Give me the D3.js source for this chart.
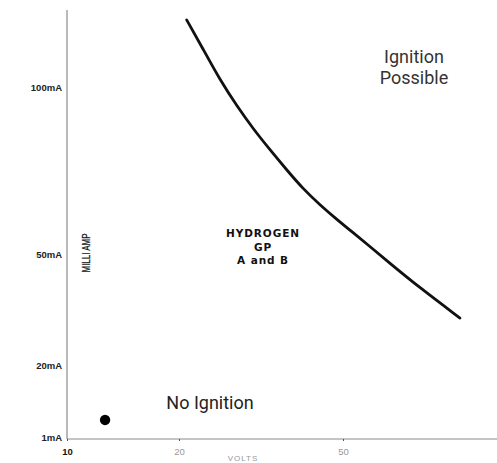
<!DOCTYPE html>
<html>
<head>
<meta charset="utf-8">
<script src="https://cdn.jsdelivr.net/npm/d3@7"></script>
<style>
  html, body { margin: 0; padding: 0; background: #fff; }
  svg { display: block; }
</style>
</head>
<body>
<svg id="chart" width="497" height="463"></svg>
<script>
// ---- data ----
const xTickValues = [10, 20, 50];
const xTickLabels = ["10", "20", "50"];
const yTickValues = [1, 20, 50, 100];
const yTickLabels = ["1mA", "20mA", "50mA", "100mA"];
// ignition boundary curve (volts, mA)
const curveVolts = [21.4, 24.5, 27.5, 30.6, 33.6, 36.7, 39.7, 42.7, 45.8, 48.9, 51.9, 54.9, 58.0, 64.1, 71.4];
const curveMilliAmp = [120.1, 111.1, 102.1, 94.3, 87.4, 81.1, 75.2, 69.5, 64.7, 60.3, 56.3, 52.3, 48.2, 40.8, 32.7];
const dotVolts = [13.4];
const dotMilliAmp = [5.5];
const regionLabels = ["Ignition", "Possible"];
const noIgnitionLabel = "No Ignition";
const gasLabel = ["HYDROGEN", "GP", "A and B"];
const yTitle = "MILLI AMP";
const xTitle = "VOLTS";

// ---- scales (non-uniform graph paper scales, piecewise) ----
const x = d3.scaleLinear().domain([10, 20, 50]).range([67, 179, 343]);
const y = d3.scaleLinear().domain([1, 20, 50, 100]).range([437, 365, 254, 87]);

const svg = d3.select("#chart");
svg.append("rect").attr("width", 497).attr("height", 463).attr("fill", "#fff");

// axes
const xAxis = d3.axisBottom(x).tickValues(xTickValues)
  .tickFormat((d, i) => xTickLabels[i]).tickSize(2).tickPadding(7);
const gx = svg.append("g").attr("transform", "translate(0,439)").call(xAxis);
gx.select(".domain").attr("d", "M67,0H497").attr("stroke", "#8a8a8a").attr("stroke-width", 1.2);
gx.selectAll(".tick line").attr("stroke", "#555");
gx.selectAll(".tick text")
  .attr("font-family", "Liberation Sans, Arial, sans-serif")
  .attr("font-size", 9.5)
  .attr("fill", (d) => d === 10 ? "#111" : "#999")
  .attr("font-weight", (d) => d === 10 ? "bold" : "normal");

const yAxis = d3.axisLeft(y).tickValues(yTickValues)
  .tickFormat((d, i) => yTickLabels[i]).tickSize(0).tickPadding(5);
const gy = svg.append("g").attr("transform", "translate(67,0)").call(yAxis);
gy.select(".domain").attr("d", "M0,10V439").attr("stroke", "#8a8a8a").attr("stroke-width", 1.2);
gy.selectAll(".tick text")
  .attr("font-family", "Liberation Sans, Arial, sans-serif")
  .attr("font-size", 9.5)
  .attr("font-weight", "bold")
  .attr("fill", "#222");

// curve
const pts = curveVolts.map((v, i) => [v, curveMilliAmp[i]]);
const line = d3.line().x(d => x(d[0])).y(d => y(d[1])).curve(d3.curveBasis);
svg.append("path").attr("d", line(pts))
  .attr("fill", "none").attr("stroke", "#111").attr("stroke-width", 2.8)
  .attr("stroke-linecap", "round");

// dot
svg.selectAll("circle.dot").data(dotVolts).join("circle")
  .attr("class", "dot")
  .attr("cx", d => x(d)).attr("cy", (d, i) => y(dotMilliAmp[i]))
  .attr("r", 5.2).attr("fill", "#000");

// region labels
svg.append("text").attr("x", 414).attr("y", 63).attr("text-anchor", "middle")
  .attr("font-family", "Roboto, Liberation Sans, Arial, sans-serif").attr("font-size", 18)
  .attr("fill", "#333")
  .selectAll("tspan").data(regionLabels).join("tspan")
  .attr("x", 414).attr("dy", (d, i) => i === 0 ? 0 : 21).text(d => d);

svg.append("text").attr("x", 210).attr("y", 409).attr("text-anchor", "middle")
  .attr("font-family", "Roboto, Liberation Sans, Arial, sans-serif").attr("font-size", 18)
  .attr("fill", "#222").text(noIgnitionLabel);

svg.append("text").attr("x", 263).attr("y", 237).attr("text-anchor", "middle")
  .attr("font-family", "DejaVu Sans, sans-serif").attr("font-size", 10.5)
  .attr("font-weight", "bold").attr("letter-spacing", 0.9).attr("fill", "#111")
  .selectAll("tspan").data(gasLabel).join("tspan")
  .attr("x", 263).attr("dy", (d, i) => i === 0 ? 0 : 13.5).text(d => d);

// axis titles
svg.append("text").attr("transform", "translate(90,253) rotate(-90)")
  .attr("text-anchor", "middle")
  .attr("font-family", "Liberation Sans Narrow, Liberation Sans, Arial, sans-serif")
  .attr("font-size", 11.5).attr("textLength", 39).attr("lengthAdjust", "spacingAndGlyphs")
  .attr("fill", "#111").attr("stroke", "#111").attr("stroke-width", 0.25).text(yTitle);

svg.append("text").attr("x", 243).attr("y", 461).attr("text-anchor", "middle")
  .attr("font-family", "Liberation Sans, Arial, sans-serif")
  .attr("font-size", 8).attr("letter-spacing", 1).attr("fill", "#999").text(xTitle);
</script>
</body>
</html>
